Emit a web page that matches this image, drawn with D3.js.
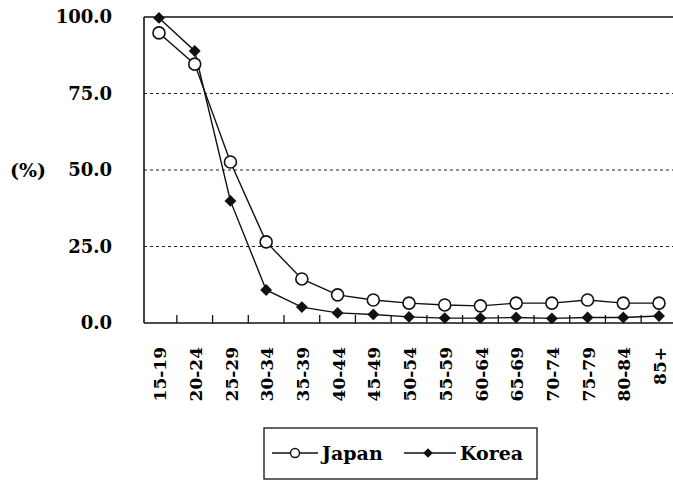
<!DOCTYPE html>
<html><head><meta charset="utf-8">
<script src="https://cdn.jsdelivr.net/npm/d3@7"></script>
<style>
body{margin:0;background:#fff;}
svg{display:block;}
text{font-family:"DejaVu Serif",serif;font-weight:bold;fill:#000;}
</style></head>
<body>
<svg id="chart" width="673" height="481"></svg>
<script>
const categories = ["15-19","20-24","25-29","30-34","35-39","40-44","45-49","50-54","55-59","60-64","65-69","70-74","75-79","80-84","85+"];
const japan = [94.8, 84.6, 52.6, 26.5, 14.4, 9.2, 7.5, 6.5, 5.9, 5.6, 6.5, 6.5, 7.5, 6.5, 6.5];
const korea = [99.7, 88.9, 39.9, 10.8, 5.2, 3.3, 2.8, 2.0, 1.6, 1.6, 1.8, 1.5, 1.8, 1.8, 2.3];
const yTicks = [0, 25, 50, 75, 100];
const seriesNames = ["Japan", "Korea"];

const svg = d3.select("#chart");
const mLeft = 144, mRight = 673, mTop = 17, mBottom = 323;
const x = d3.scalePoint().domain(categories).range([159, 659]);
const y = d3.scaleLinear().domain([0, 100]).range([mBottom, mTop]);
const step = x.step();

// gridlines
svg.append("g").selectAll("line").data(yTicks.filter(d => d > 0 && d < 100)).join("line")
  .attr("x1", mLeft).attr("x2", mRight).attr("y1", d => y(d)).attr("y2", d => y(d))
  .attr("stroke", "#222").attr("stroke-width", 1.2).attr("stroke-dasharray", "3,3");

// frame
svg.append("line").attr("x1", mLeft).attr("x2", mRight).attr("y1", y(100)).attr("y2", y(100)).attr("stroke", "#111").attr("stroke-width", 1.6);
svg.append("line").attr("x1", mLeft).attr("x2", mLeft).attr("y1", y(100)).attr("y2", y(0)).attr("stroke", "#111").attr("stroke-width", 1.6);
svg.append("line").attr("x1", mLeft).attr("x2", mRight).attr("y1", y(0)).attr("y2", y(0)).attr("stroke", "#111").attr("stroke-width", 1.6);

// x boundary ticks
svg.append("g").selectAll("line").data(categories.slice(0, -1)).join("line")
  .attr("x1", d => x(d) + step / 2).attr("x2", d => x(d) + step / 2)
  .attr("y1", y(0)).attr("y2", y(0) - 8).attr("stroke", "#111").attr("stroke-width", 1.3);

// y labels
svg.append("g").selectAll("text").data(yTicks).join("text")
  .attr("x", 112).attr("y", d => y(d)).attr("dy", "0.36em")
  .attr("text-anchor", "end").attr("font-size", 18)
  .text(d => d.toFixed(1));
svg.append("text").attr("x", 28).attr("y", y(50)).attr("dy", "0.36em")
  .attr("text-anchor", "middle").attr("font-size", 19).text("(%)");

// x labels
svg.append("g").selectAll("text").data(categories).join("text")
  .attr("transform", d => `translate(${x(d) + 1},347) rotate(-90)`)
  .attr("text-anchor", "end").attr("dy", "0.36em").attr("font-size", 17)
  .text(d => d);

// lines
const line = d3.line().x((d, i) => x(categories[i])).y(d => y(d));
svg.append("path").datum(japan).attr("d", line).attr("fill", "none").attr("stroke", "#111").attr("stroke-width", 1.4);
svg.append("path").datum(korea).attr("d", line).attr("fill", "none").attr("stroke", "#111").attr("stroke-width", 1.4);

// markers
const diamond = d3.symbol().type(d3.symbolDiamond2).size(90);
svg.append("g").selectAll("circle").data(japan).join("circle")
  .attr("cx", (d, i) => x(categories[i])).attr("cy", d => y(d)).attr("r", 6)
  .attr("fill", "#fff").attr("stroke", "#111").attr("stroke-width", 1.6);
svg.append("g").selectAll("path").data(korea).join("path")
  .attr("d", diamond).attr("transform", (d, i) => `translate(${x(categories[i])},${y(d)})`)
  .attr("fill", "#111");

// legend
const lg = svg.append("g");
lg.append("rect").attr("x", 264).attr("y", 428).attr("width", 273).attr("height", 51)
  .attr("fill", "#fff").attr("stroke", "#111").attr("stroke-width", 1.3);
const ly = 453;
lg.append("line").attr("x1", 272).attr("x2", 318).attr("y1", ly).attr("y2", ly).attr("stroke", "#111").attr("stroke-width", 1.4);
lg.append("circle").attr("cx", 295).attr("cy", ly).attr("r", 4.5).attr("fill", "#fff").attr("stroke", "#111").attr("stroke-width", 1.4);
lg.append("text").attr("x", 322).attr("y", ly).attr("dy", "0.36em").attr("font-size", 19).text(seriesNames[0]);
lg.append("line").attr("x1", 404).attr("x2", 456).attr("y1", ly).attr("y2", ly).attr("stroke", "#111").attr("stroke-width", 1.4);
lg.append("path").attr("d", d3.symbol().type(d3.symbolDiamond2).size(60)).attr("transform", `translate(428,${ly})`).attr("fill", "#111");
lg.append("text").attr("x", 460).attr("y", ly).attr("dy", "0.36em").attr("font-size", 19).text(seriesNames[1]);
</script>
</body></html>
